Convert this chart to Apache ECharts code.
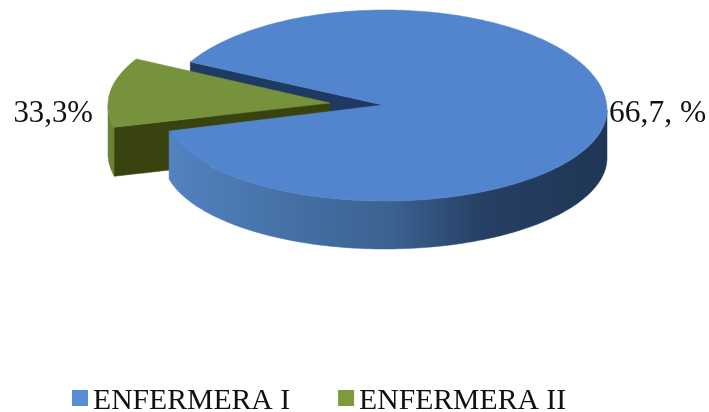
<!DOCTYPE html>
<html>
<head>
<meta charset="utf-8">
<style>html,body{margin:0;padding:0;background:#fff}#c{width:709px;height:412px}</style>
<script src="https://cdn.jsdelivr.net/npm/echarts@6/dist/echarts.min.js"></script>
</head>
<body>
<div id="c"></div>
<script>
const categories = ['ENFERMERA I', 'ENFERMERA II'];
// Values printed on the chart's labels.
const labelValues = [66.7, 33.3];
const labelSuffixes = [', %', '%'];
// Share of the circle each slice actually occupies in the picture: the source
// drawing does not match its printed labels, so these are read from its geometry.
const drawnShares = [88.3, 11.7];

const START = 208.7;
const DEPTH = 48;
const total = drawnShares[0] + drawnShares[1];
const sweepBlue = drawnShares[0] / total * 360;
const sweepGreen = drawnShares[1] / total * 360;
const rad = d => d * Math.PI / 180;

const blueShape = {cx: 385, cy: 110, rx: 222, ryTop: 100, ryBot: 91, ax: 383, ay: 105};
const greenShape = {cx: 340, cy: 105, rx: 232, ryTop: 96, ryBot: 96, ax: 330, ay: 103};

function pt(s, deg, dy) {
  const a = rad(deg), sn = Math.sin(a);
  return [s.cx + s.rx * Math.cos(a), s.cy + (sn < 0 ? s.ryTop : s.ryBot) * sn + (dy || 0)];
}
function arc(s, a, b, dy) {
  const out = [], n = Math.max(2, Math.ceil(Math.abs(b - a)));
  for (let i = 0; i <= n; i++) out.push(pt(s, a + (b - a) * i / n, dy));
  return out;
}
function poly(points, fill) {
  return {type: 'polygon', shape: {points}, style: {fill, stroke: fill, lineWidth: 0.5}, silent: true};
}
function label(text, x, y, align, size) {
  return {type: 'text', silent: true, style: {
    text, x, y, align, verticalAlign: 'middle', fill: '#111',
    font: size + 'px "Liberation Serif", serif'
  }};
}
function labelText(i) {
  return labelValues[i].toFixed(1).replace('.', ',') + labelSuffixes[i];
}

// Inner cut wall of the blue slice, behind the green slice.
function renderBlueInner() {
  const s = blueShape, p = pt(s, START);
  return poly([p, [s.ax, s.ay], [s.ax, s.ay + DEPTH], pt(s, START, DEPTH)], '#1f3a62');
}
function renderGreen(params, api) {
  const s = greenShape;
  const a0 = START, a1 = START - sweepGreen;
  const depth = 49;
  const wallA = arc(s, a1, 180), wallB = arc(s, 180, a1, depth);
  const end = pt(s, a1);
  return {type: 'group', children: [
    poly(wallA.concat(wallB), '#6a8433'),
    poly([[s.ax, s.ay], end, pt(s, a1, depth), [s.ax, s.ay + depth]], '#39430f'),
    poly([[s.ax, s.ay]].concat(arc(s, a1, a0)), '#76923c'),
    label(labelText(1), 93, 114, 'right', 30.8)
  ]};
}
function renderBlue(params, api) {
  const s = blueShape;
  const endDeg = START + sweepBlue - 360;
  const wall = arc(s, 0, endDeg).concat(arc(s, endDeg, 0, DEPTH));
  const grad = new echarts.graphic.LinearGradient(0, 0, 1, 0, [
    {offset: 0, color: '#5282c0'},
    {offset: 0.25, color: '#4672a8'},
    {offset: 0.5, color: '#3b6392'},
    {offset: 0.72, color: '#263f64'},
    {offset: 1, color: '#1f3654'}
  ]);
  return {type: 'group', children: [
    poly(wall, grad),
    poly([[s.ax, s.ay]].concat(arc(s, START, START + sweepBlue)), '#5285cd'),
    label(labelText(0), 609, 114, 'left', 31.5)
  ]};
}

const chart = echarts.init(document.getElementById('c'), null, {renderer: 'canvas'});
chart.setOption({
  animation: false,
  backgroundColor: '#fff',
  legend: {
    left: 67, top: 381,
    itemWidth: 16, itemHeight: 16, itemGap: 48,
    icon: 'rect',
    selectedMode: false,
    data: categories,
    formatter: '{t|{name}}',
    textStyle: {
      fontFamily: '"Liberation Serif", serif', fontSize: 29.7, color: '#111',
      rich: {t: {fontFamily: '"Liberation Serif", serif', fontSize: 29.7, color: '#111', padding: [6, 0, 0, 0]}}
    }
  },
  series: [
    {type: 'custom', name: categories[0], coordinateSystem: 'none', silent: true, z: 1,
     itemStyle: {color: '#558ed5'}, data: [[drawnShares[0]]], renderItem: renderBlueInner},
    {type: 'custom', name: categories[1], coordinateSystem: 'none', silent: true, z: 2,
     itemStyle: {color: '#7f9a3a'}, data: [[drawnShares[1]]], renderItem: renderGreen},
    {type: 'custom', name: categories[0], coordinateSystem: 'none', silent: true, z: 3,
     itemStyle: {color: '#558ed5'}, data: [[drawnShares[0]]], renderItem: renderBlue}
  ]
});
</script>
</body>
</html>
